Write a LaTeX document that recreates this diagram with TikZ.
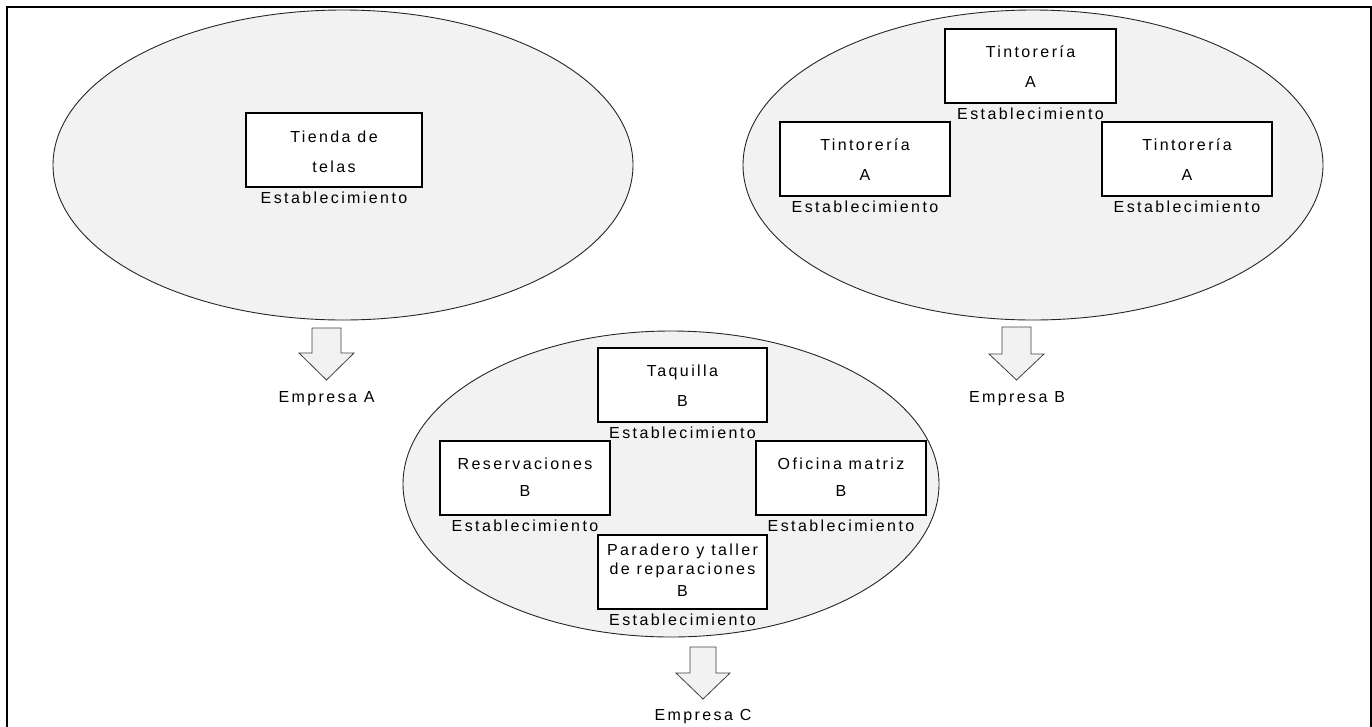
\documentclass[tikz,border=0pt]{standalone}
\usepackage{fontspec}
\setmainfont{Liberation Sans}[LetterSpace=15]
\usetikzlibrary{shapes.geometric}
\tikzset{
  ell/.style={ellipse, draw=black!85, line width=0.9pt, fill=black!5, inner sep=0pt},
  estab/.style={rectangle, draw=black, line width=1.6pt, fill=white, minimum height=74pt, inner sep=0pt},
  txt/.style={anchor=base, inner sep=0pt, font=\fontsize{16}{18}\selectfont, text=black},
  blk/.style={draw=black!75, line width=0.8pt, fill=black!5, line join=miter},
  frame/.style={draw=black, line width=2pt}
}
\begin{document}
\begin{tikzpicture}[x=1pt,y=-1pt]
\useasboundingbox (0,0) rectangle (1372,726);
\draw[frame] (7,740) -- (7,7) -- (1371,7) -- (1371,740);

% ellipses
\node[ell, minimum width=580pt, minimum height=310pt] (eA) at (343,165) {};
\node[ell, minimum width=580pt, minimum height=310pt] (eB) at (1033,165) {};
\node[ell, minimum width=536pt, minimum height=306pt] (eC) at (671,484) {};

% Empresa A
\node[estab, minimum width=176pt] (tienda) at (334,150) {};
\node[txt] (tienda1) at ([yshift=-30pt]tienda.north) {Tienda de};
\node[txt] (tienda2) at ([yshift=-60pt]tienda.north) {telas};
\node[txt] (tiendaE) at ([yshift=-16pt]tienda.south) {Establecimiento};

% Empresa B
\node[estab, minimum width=171pt] (tA1) at (1030.5,66) {};
\node[txt] (tA1a) at ([yshift=-29pt]tA1.north) {Tintorería};
\node[txt] (tA1b) at ([yshift=-59pt]tA1.north) {A};
\node[txt] (tA1E) at ([yshift=-16pt]tA1.south) {Establecimiento};

\node[estab, minimum width=170pt] (tA2) at (865,159) {};
\node[txt] (tA2a) at ([yshift=-29pt]tA2.north) {Tintorería};
\node[txt] (tA2b) at ([yshift=-59pt]tA2.north) {A};
\node[txt] (tA2E) at ([yshift=-16pt]tA2.south) {Establecimiento};

\node[estab, minimum width=170pt] (tA3) at (1187,159) {};
\node[txt] (tA3a) at ([yshift=-29pt]tA3.north) {Tintorería};
\node[txt] (tA3b) at ([yshift=-59pt]tA3.north) {A};
\node[txt] (tA3E) at ([yshift=-16pt]tA3.south) {Establecimiento};

% Empresa C
\node[estab, minimum width=169pt] (taq) at (682.5,385) {};
\node[txt] (taqa) at ([yshift=-29pt]taq.north) {Taquilla};
\node[txt] (taqb) at ([yshift=-59pt]taq.north) {B};
\node[txt] (taqE) at ([yshift=-16pt]taq.south) {Establecimiento};

\node[estab, minimum width=170pt] (res) at (525,478) {};
\node[txt] (resa) at ([yshift=-29pt]res.north) {Reservaciones};
\node[txt] (resb) at ([yshift=-56pt]res.north) {B};
\node[txt] (resE) at ([yshift=-16pt]res.south) {Establecimiento};

\node[estab, minimum width=170pt] (ofi) at (841,478) {};
\node[txt] (ofia) at ([yshift=-29pt]ofi.north) {Oficina matriz};
\node[txt] (ofib) at ([yshift=-56pt]ofi.north) {B};
\node[txt] (ofiE) at ([yshift=-16pt]ofi.south) {Establecimiento};

\node[estab, minimum width=169pt] (par) at (682.5,572) {};
\node[txt] (para) at ([yshift=-21pt]par.north) {Paradero y taller};
\node[txt] (parb) at ([yshift=-40pt]par.north) {de reparaciones};
\node[txt] (parc) at ([yshift=-62pt]par.north) {B};
\node[txt] (parE) at ([yshift=-16pt]par.south) {Establecimiento};

% block arrows
\draw[blk] (312,328) -- (341,328) -- (341,353) -- (354,353) -- (326.5,380) -- (299,353) -- (312,353) -- cycle;
\coordinate (arA) at (326.5,380);
\node[txt] (empA) at ([yshift=-22pt]arA) {Empresa A};

\draw[blk] (1002,327) -- (1031,327) -- (1031,354) -- (1044,354) -- (1016.5,380) -- (989,354) -- (1002,354) -- cycle;
\coordinate (arB) at (1017,380);
\node[txt] (empB) at ([yshift=-22pt]arB) {Empresa B};

\draw[blk] (690,647) -- (716,647) -- (716,673) -- (730,673) -- (703,699) -- (676,673) -- (690,673) -- cycle;
\coordinate (arC) at (703,699);
\node[txt] (empC) at ([yshift=-21pt]arC) {Empresa C};
\end{tikzpicture}
\end{document}
